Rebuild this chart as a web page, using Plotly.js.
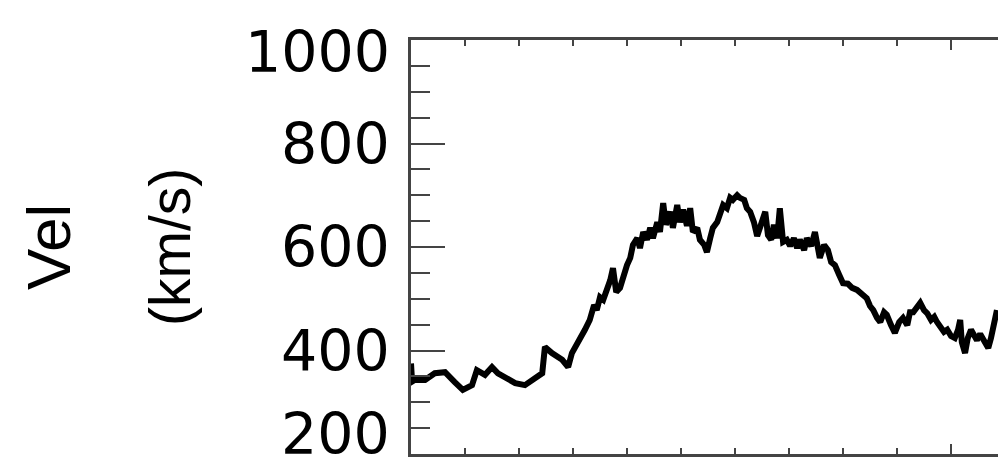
<!DOCTYPE html>
<html>
<head>
<meta charset="utf-8">
<script src="https://cdn.plot.ly/plotly-3.0.1.min.js"></script>
<style>html,body{margin:0;padding:0;background:#fff;}#chart{width:998px;height:472px;}</style>
</head>
<body>
<div id="chart"></div>
<script>
// time axis (arbitrary units, one minor tick = 1)
const time = [0.00,0.02,0.07,0.26,0.44,0.63,0.81,0.96,1.13,1.22,1.37,1.50,1.61,1.74,1.93,2.11,2.24,2.33,2.43,2.48,2.61,2.80,2.91,2.98,3.13,3.22,
  3.31,3.39,3.44,3.50,3.56,3.63,3.69,3.74,3.80,3.87,3.93,4.00,4.06,4.11,4.19,4.24,4.30,4.37,4.43,4.48,4.56,4.61,4.67,4.72,4.80,4.85,4.93,4.98,
  5.04,5.11,5.17,5.22,5.30,5.35,5.43,5.48,5.54,5.59,5.67,5.72,5.78,5.85,5.91,5.96,6.04,6.09,6.17,6.22,6.28,6.35,6.41,6.48,6.56,6.61,6.67,6.72,
  6.78,6.83,6.89,6.96,7.02,7.09,7.15,7.20,7.28,7.33,7.41,7.48,7.54,7.57,7.65,7.72,7.78,7.85,7.93,8.00,8.09,8.17,8.26,8.35,8.44,8.50,8.56,8.63,
  8.69,8.76,8.81,8.89,8.96,9.04,9.11,9.19,9.24,9.30,9.37,9.43,9.50,9.56,9.63,9.69,9.74,9.81,9.87,9.93,10.00,10.07,10.13,10.17,10.20,10.26,
  10.31,10.37,10.43,10.48,10.54,10.59,10.65,10.69,10.74,10.80,10.85];
// solar wind velocity (km/s)
const velocity = [375,340,343,343,356,358,339,324,333,362,353,368,356,349,337,333,343,349,356,407,395,382,368,395,420,440,
  459,488,478,503,498,517,536,559,513,521,546,565,579,604,617,598,629,614,637,617,648,629,685,643,668,637,681,648,
  672,641,675,629,637,614,604,590,617,637,648,668,681,675,695,691,700,695,691,675,668,648,621,643,668,623,614,643,
  617,675,610,614,602,617,598,614,594,617,602,629,594,579,604,594,571,565,546,530,529,521,517,509,501,486,478,463,
  455,474,469,449,434,455,463,449,474,474,486,492,478,472,459,465,455,447,436,440,428,424,440,459,416,395,
  424,440,430,420,432,424,411,405,424,449,478];
const yTickVals = [200,400,600,800,1000];
const yTickText = ['200','400','600','800','1000'];
const yLabel1 = 'Vel';
const yLabel2 = '(km/s)';

const trace = {
  x: time, y: velocity, type: 'scatter', mode: 'lines',
  line: {color: '#000', width: 6}, hoverinfo: 'skip'
};
const tickAnnotations = yTickVals.map((v, i) => ({
  text: yTickText[i], xref: 'paper', yref: 'y', x: 0, y: v,
  xanchor: 'right', yanchor: 'middle', xshift: -19,
  yshift: i === 0 ? 20 : (i === yTickVals.length - 1 ? -12 : 0),
  showarrow: false, font: {family: 'DejaVu Sans', size: 57, color: '#000'}
}));
const layout = {
  width: 998, height: 472,
  margin: {l: 411, r: 0, t: 40, b: 18, pad: 0},
  paper_bgcolor: '#fff', plot_bgcolor: '#fff',
  showlegend: false,
  xaxis: {
    range: [0, 10.87], showgrid: false, zeroline: false,
    showline: true, linecolor: '#444', linewidth: 3, mirror: 'allticks',
    ticks: 'inside', dtick: 10, tick0: 0, ticklen: 10, tickwidth: 2, tickcolor: '#444',
    minor: {dtick: 1, tick0: 0, ticks: 'inside', ticklen: 6, tickwidth: 2, tickcolor: '#444', showgrid: false},
    showticklabels: false
  },
  yaxis: {
    range: [200, 1000], showgrid: false, zeroline: false,
    showline: true, linecolor: '#444', linewidth: 3, mirror: false,
    ticks: 'inside', tickvals: yTickVals, ticklen: 34, tickwidth: 2, tickcolor: '#444',
    minor: {dtick: 50, tick0: 200, ticks: 'inside', ticklen: 19, tickwidth: 2, tickcolor: '#444', showgrid: false},
    showticklabels: false
  },
  annotations: tickAnnotations.concat([
    {text: yLabel1, xref: 'paper', yref: 'paper', x: (48-411)/587, y: 0.5, xanchor: 'center', yanchor: 'middle',
     textangle: -90, showarrow: false, font: {family: 'Liberation Sans', size: 62, color: '#000'}},
    {text: yLabel2, xref: 'paper', yref: 'paper', x: (170-411)/587, y: 0.5, xanchor: 'center', yanchor: 'middle',
     textangle: -90, showarrow: false, font: {family: 'Liberation Sans', size: 57, color: '#000'}}
  ])
};
Plotly.newPlot('chart', [trace], layout, {staticPlot: true, displayModeBar: false});
</script>
</body>
</html>
